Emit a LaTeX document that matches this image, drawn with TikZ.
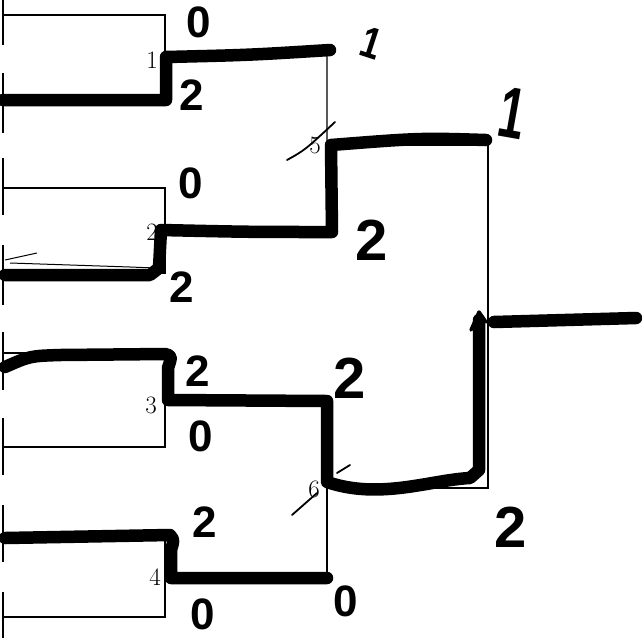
\documentclass[tikz,border=0pt]{standalone}
\usepackage{fontspec}
\newfontfamily\handfont{Liberation Sans}
\begin{document}
\begin{tikzpicture}[x=1pt,y=-1pt,
  thinln/.style={line width=1.3pt},
  win/.style={line width=12.5pt,line cap=round,line join=round},
  seed/.style={font=\fontsize{25}{25}\selectfont,inner sep=0pt},
  hand/.style={font=\handfont\bfseries\fontsize{44}{44}\selectfont,inner sep=0pt},
  bighand/.style={font=\handfont\bfseries\fontsize{58}{58}\selectfont,inner sep=0pt},
  slashmark/.style={line width=1.8pt,line cap=round}]
\useasboundingbox (0,0) rectangle (642,638);
% entry points
\coordinate (e1) at (3,15);  \coordinate (e2) at (3,100);
\coordinate (e3) at (3,188); \coordinate (e4) at (3,273);
\coordinate (e5) at (3,353); \coordinate (e6) at (3,447);
\coordinate (e7) at (3,537); \coordinate (e8) at (3,617);
% round 1 corners
\coordinate (m1t) at (165,15);  \coordinate (m1b) at (165,100);
\coordinate (m2t) at (165,188); \coordinate (m2b) at (165,273);
\coordinate (m3t) at (165,353); \coordinate (m3b) at (165,447);
\coordinate (m4t) at (165,537); \coordinate (m4b) at (165,617);
% round 2
\coordinate (m5t) at (327,55);  \coordinate (m5b) at (327,231);
\coordinate (m6t) at (327,401); \coordinate (m6b) at (327,578);
% final
\coordinate (ft) at (488,145); \coordinate (fb) at (488,488);
\coordinate (out) at (640,320);
% name-box stubs
\foreach \a/\b in {0/45,73/133,158/215,245/305,332/390,418/475,505/562,592/638}
  \draw[thinln] (3,\a) -- (3,\b);
% thin bracket
\draw[thinln] (e1) -- (m1t) -- (m1b) -- (e2);
\draw[thinln] (e3) -- (m2t) -- (m2b) -- (e4);
\draw[thinln] (e5) -- (m3t) -- (m3b) -- (e6);
\draw[thinln] (e7) -- (m4t) -- (m4b) -- (e8);
\draw[thinln] (165,57) -- (m5t) -- (m5b) -- (165,231);
\draw[thinln] (165,401) -- (m6t) -- (m6b) -- (165,578);
\draw[thinln] (327,145) -- (ft) -- (fb) -- (327,488);
% scribble
\draw[line width=1pt] (5,260) -- (37,253);
\draw[line width=1pt] (10,263) -- (130,267) -- (155,268);
% winner paths
\draw[win] (e2) -- (166,100) -- (166,57) .. controls (250,55) .. (330,50);
\draw[win] (5,275) -- (150,275) -- (159,268) -- (161,230) .. controls (250,232) .. (332,232)
  -- (331,145) .. controls (420,138) .. (486,140);
\draw[win] (5,367) .. controls (30,356) .. (60,355) -- (165,354) .. controls (172,356) .. (168,368)
  -- (168,400) -- (327,401) -- (327,482) .. controls (380,500) and (430,480) .. (470,478)
  -- (479,470) -- (479,320);
\draw[line width=3.5pt,line cap=round,line join=round] (471,330) -- (479,312) -- (486,322);
\draw[win] (5,538) -- (170,535) .. controls (174,540) .. (171,550) -- (171,578) -- (327,578);
\draw[win] (494,322) -- (636,318);
% match labels
\node[seed] (s1) at (152,60) {1};
\node[seed] (s2) at (152,232) {2};
\node[seed] (s3) at (151,405) {3};
\node[seed] (s4) at (155,577) {4};
\node[seed] (s5) at (315,145) {5};
\node[seed] (s6) at (314,489) {6};
% slash marks
\draw[slashmark] (287,160) .. controls (305,150) .. (335,122);
\draw[slashmark] (292,515) -- (317,493);
\draw[slashmark] (337,473) -- (350,465);
% handwritten scores
\node[hand] (a1) at (199,22) {0};
\node[hand] (a2) at (192,95) {2};
\node[hand,rotate=-18,xscale=0.8] (a3) at (371,43) {1};
\node[hand] (a4) at (191,183) {0};
\node[hand] (a5) at (182,287) {2};
\node[bighand] (a6) at (372,240) {2};
\node[bighand,rotate=-10,yscale=1.25,xscale=0.8] (a7) at (513,113) {1};
\node[hand] (a8) at (198,371) {2};
\node[hand] (a9) at (201,436) {0};
\node[bighand] (a10) at (350,378) {2};
\node[hand] (a11) at (205,522) {2};
\node[hand] (a12) at (203,614) {0};
\node[hand] (a13) at (346,601) {0};
\node[bighand] (a14) at (511,527) {2};
\end{tikzpicture}
\end{document}
